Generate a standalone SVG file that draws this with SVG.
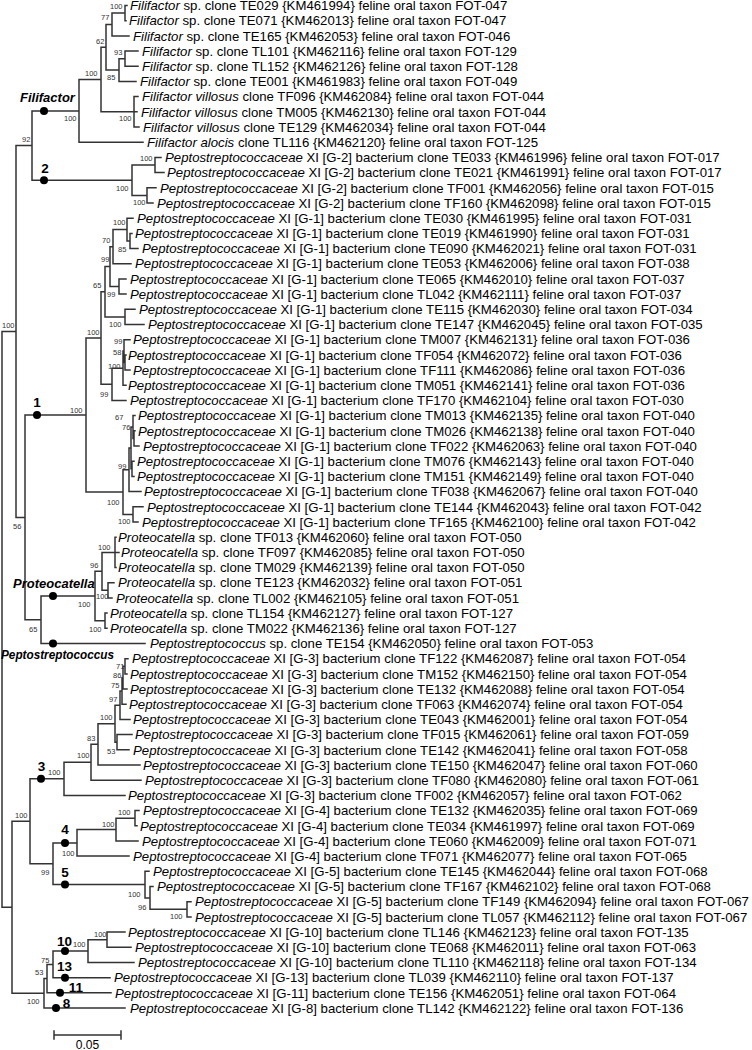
<svg xmlns="http://www.w3.org/2000/svg" width="752" height="1050" viewBox="0 0 752 1050">
<style>
text{font-family:"Liberation Sans",Arial,sans-serif;fill:#000}
.t{font-size:13.2px}
.i{font-style:italic}
.b{font-size:7.5px;fill:#333}
.cl{font-size:13px;font-weight:bold;font-style:italic}
.n{font-size:13.5px;font-weight:bold;text-anchor:middle}
.br{fill:none;stroke:#333;stroke-width:1.5;stroke-linecap:square}
.dot{fill:#000}
</style>
<rect width="752" height="1050" fill="#fff"/>
<g id="connectors">
<path class="br" d="M2,331.5V907.3M2,331.5H16M2,907.3H12
M16,145.6V517.4M16,145.6H32M16,517.4H25
M32,110.9V180.2M32,110.9H79M32,180.2H132
M79,79.6V142.2M79,79.6H101M79,142.2H143
M101,47.3V111.8M101,47.3H106M101,111.8H134
M106,24.5V70.1M106,24.5H112M106,70.1H119
M112,13.1V35.9M112,13.1H125M112,35.9H129
M125,5.5V20.7M125,5.5H127M125,20.7H126
M119,58.7V81.5M119,58.7H125M119,81.5H136
M125,51.1V66.3M125,51.1H138M125,66.3H138
M134,96.6V127M134,96.6H138M134,111.8H137M134,127H139
M132,165V195.4M132,165H155M132,195.4H147
M155,157.4V172.6M155,157.4H161M155,172.6H164
M147,187.8V203M147,187.8H156M147,203H153
M25,415V619.8M25,415H86M25,619.8H41
M86,338V492M86,338H101M86,492H123
M101,291.8V384.3M101,291.8H105M101,384.3H112
M105,266.6V316.9M105,266.6H110M105,316.9H125
M110,246.7V286.5M110,246.7H113M110,286.5H119
M113,229.6V263.7M113,229.6H127M113,263.7H131
M127,218.2V241M127,218.2H133M127,241H130
M130,233.4V248.5M130,233.4H132M130,248.5H138
M119,278.9V294.1M119,278.9H126M119,294.1H126
M125,309.3V324.5M125,309.3H135M125,324.5H144
M112,368.2V400.4M112,368.2H123M112,400.4H126
M123,351.1V385.3M123,351.1H124M123,385.3H126
M124,339.7V362.5M124,339.7H130M124,362.5H125
M125,354.9V370.1M125,354.9H126M125,370.1H130
M123,469.7V514.4M123,469.7H129M123,514.4H133
M129,447.9V491.6M129,447.9H131M129,491.6H141
M131,427V468.8M131,427H133M131,468.8H132
M133,415.6V438.4M133,415.6H135M133,438.4H134
M134,430.8V446M134,430.8H135M134,446H139
M132,461.2V476.4M132,461.2H134M132,476.4H134
M133,506.8V522M133,506.8H143M133,522H138
M41,596V643.5M41,596H95M41,643.5H145
M95,571.3V620.7M95,571.3H102M95,620.7H105
M102,552.4V590.3M102,552.4H115M102,590.3H108
M115,537.2V567.5M115,537.2H116M115,552.4H119M115,567.5H116
M108,582.7V597.9M108,582.7H114M108,597.9H112
M105,613.1V628.3M105,613.1H107M105,628.3H107
M12,821.3V993.3M12,821.3H30M12,993.3H44
M30,778.8V863.8M30,778.8H64M30,863.8H53
M64,762.3V795.4M64,762.3H91M64,795.4H125
M91,744.3V780.2M91,744.3H98M91,780.2H141
M98,723.7V765M98,723.7H115M98,765H140
M115,705.2V742.2M115,705.2H120M115,742.2H117
M120,691V719.4M120,691H122M120,719.4H130
M122,677.7V704.2M122,677.7H123M122,704.2H126
M123,666.3V689.1M123,666.3H125M123,689.1H127
M125,658.7V673.9M125,658.7H128M125,673.9H127
M117,734.6V749.8M117,734.6H132M117,749.8H129
M53,842.9V884.6M53,842.9H77M53,884.6H145
M77,829.6V856.1M77,829.6H116M77,856.1H129
M116,818.2V840.9M116,818.2H135M116,840.9H138
M135,810.6V825.8M135,810.6H139M135,825.8H137
M145,871.3V897.9M145,871.3H149M145,897.9H150
M150,886.5V909.3M150,886.5H153M150,909.3H187
M187,901.7V916.9M187,901.7H191M187,916.9H191
M44,978.6V1008M44,978.6H47M44,1008H125
M47,964.4V992.8M47,964.4H53M47,992.8H111
M53,951.1V977.7M53,951.1H88M53,977.7H110
M88,939.7V962.5M88,939.7H107M88,962.5H134
M107,932.1V947.3M107,932.1H125M107,947.3H131"/>
</g>
<g id="support-values">
<text class="b" x="110" y="9">100</text><text class="b" x="101" y="20">77</text><text class="b" x="96" y="44">62</text><text class="b" x="114" y="55">93</text><text class="b" x="107" y="80">85</text><text class="b" x="85" y="76">100</text><text class="b" x="119" y="121">100</text><text class="b" x="64" y="121">100</text><text class="b" x="22" y="142">92</text>
<text class="b" x="140" y="161">100</text><text class="b" x="116" y="191">100</text><text class="b" x="133" y="205">100</text>
<text class="b" x="113" y="225">100</text><text class="b" x="102" y="243">70</text><text class="b" x="118" y="252">85</text><text class="b" x="101" y="262">99</text><text class="b" x="93" y="288">65</text><text class="b" x="107" y="297">99</text><text class="b" x="109" y="327">100</text><text class="b" x="87" y="335">100</text><text class="b" x="114" y="344">99</text><text class="b" x="113" y="355">58</text><text class="b" x="108" y="369">100</text><text class="b" x="100" y="397">99</text><text class="b" x="70" y="413">100</text><text class="b" x="115" y="420">67</text><text class="b" x="122" y="430">76</text><text class="b" x="118" y="469">99</text><text class="b" x="107" y="505">100</text><text class="b" x="118" y="524">100</text><text class="b" x="13" y="529">56</text><text class="b" x="2" y="328">100</text>
<text class="b" x="98" y="550">100</text><text class="b" x="90" y="568">96</text><text class="b" x="96" y="599">100</text><text class="b" x="78" y="607">100</text><text class="b" x="89" y="632">100</text><text class="b" x="29" y="632">65</text>
<text class="b" x="116" y="668.5">71</text><text class="b" x="113" y="678">86</text><text class="b" x="111" y="688">75</text><text class="b" x="109" y="702">97</text><text class="b" x="100" y="720">100</text><text class="b" x="87" y="741">83</text><text class="b" x="107" y="754">53</text><text class="b" x="77" y="758">100</text><text class="b" x="48" y="775">100</text><text class="b" x="15" y="818">100</text>
<text class="b" x="118" y="815">100</text><text class="b" x="102" y="827">100</text><text class="b" x="62" y="856">100</text><text class="b" x="41" y="875">99</text>
<text class="b" x="128" y="897">100</text><text class="b" x="138" y="910">96</text><text class="b" x="170" y="919">100</text>
<text class="b" x="94" y="937">100</text><text class="b" x="73" y="947">100</text><text class="b" x="41" y="963">75</text><text class="b" x="35" y="975">53</text><text class="b" x="27" y="1004">100</text>
</g>
<g id="clade-Filifactor"><circle class="dot" cx="44" cy="110.9" r="4"/><text class="cl" x="20" y="102">Filifactor</text></g>
<g id="clade-2"><circle class="dot" cx="44" cy="180.2" r="4"/><text class="n" x="45" y="173">2</text></g>
<g id="clade-1"><circle class="dot" cx="37" cy="415" r="4"/><text class="n" x="37" y="407">1</text></g>
<g id="clade-Proteocatella"><circle class="dot" cx="53" cy="596" r="4"/><text class="cl" x="13" y="588">Proteocatella</text></g>
<g id="clade-Peptostreptococcus"><circle class="dot" cx="53" cy="643.5" r="4"/><text class="cl" x="1" y="659" textLength="113" lengthAdjust="spacingAndGlyphs">Peptostreptococcus</text></g>
<g id="clade-3"><circle class="dot" cx="41" cy="778.8" r="4"/><text class="n" x="41.5" y="771">3</text></g>
<g id="clade-4"><circle class="dot" cx="65" cy="842.9" r="4"/><text class="n" x="65" y="834">4</text></g>
<g id="clade-5"><circle class="dot" cx="65" cy="884.6" r="4"/><text class="n" x="65" y="877">5</text></g>
<g id="clade-10"><circle class="dot" cx="65" cy="951.1" r="4"/><text class="n" x="64.5" y="946">10</text></g>
<g id="clade-13"><circle class="dot" cx="65" cy="977.7" r="4"/><text class="n" x="64.5" y="971">13</text></g>
<g id="clade-11"><circle class="dot" cx="60" cy="992.8" r="4"/><text class="n" x="76" y="992">11</text></g>
<g id="clade-8"><circle class="dot" cx="56" cy="1008" r="4"/><text class="n" x="66.5" y="1008">8</text></g>
<g id="leaves" class="t">
<g id="leaf-TE029"><text class="t" x="130" y="10.2"><tspan class="i">Filifactor</tspan> sp. clone TE029 {KM461994} feline oral taxon FOT-047</text></g>
<g id="leaf-TE071"><text class="t" x="129" y="25.4"><tspan class="i">Filifactor</tspan> sp. clone TE071 {KM462013} feline oral taxon FOT-047</text></g>
<g id="leaf-TE165"><text class="t" x="133" y="40.6"><tspan class="i">Filifactor</tspan> sp. clone TE165 {KM462053} feline oral taxon FOT-046</text></g>
<g id="leaf-TL101"><text class="t" x="142" y="55.8"><tspan class="i">Filifactor</tspan> sp. clone TL101 {KM462116} feline oral taxon FOT-129</text></g>
<g id="leaf-TL152"><text class="t" x="142" y="71"><tspan class="i">Filifactor</tspan> sp. clone TL152 {KM462126} feline oral taxon FOT-128</text></g>
<g id="leaf-TE001"><text class="t" x="140" y="86.2"><tspan class="i">Filifactor</tspan> sp. clone TE001 {KM461983} feline oral taxon FOT-049</text></g>
<g id="leaf-TF096"><text class="t" x="142" y="101.3"><tspan class="i">Filifactor villosus</tspan> clone TF096 {KM462084} feline oral taxon FOT-044</text></g>
<g id="leaf-TM005"><text class="t" x="141" y="116.5"><tspan class="i">Filifactor villosus</tspan> clone TM005 {KM462130} feline oral taxon FOT-044</text></g>
<g id="leaf-TE129"><text class="t" x="143" y="131.7"><tspan class="i">Filifactor villosus</tspan> clone TE129 {KM462034} feline oral taxon FOT-044</text></g>
<g id="leaf-TL116"><text class="t" x="147" y="146.9"><tspan class="i">Filifactor alocis</tspan> clone TL116 {KM462120} feline oral taxon FOT-125</text></g>
<g id="leaf-TE033"><text class="t" x="165" y="162.1"><tspan class="i">Peptostreptococcaceae</tspan> XI [G-2] bacterium clone TE033 {KM461996} feline oral taxon FOT-017</text></g>
<g id="leaf-TE021"><text class="t" x="167" y="177.3"><tspan class="i">Peptostreptococcaceae</tspan> XI [G-2] bacterium clone TE021 {KM461991} feline oral taxon FOT-017</text></g>
<g id="leaf-TF001"><text class="t" x="160" y="192.5"><tspan class="i">Peptostreptococcaceae</tspan> XI [G-2] bacterium clone TF001 {KM462056} feline oral taxon FOT-015</text></g>
<g id="leaf-TF160"><text class="t" x="157" y="207.7"><tspan class="i">Peptostreptococcaceae</tspan> XI [G-2] bacterium clone TF160 {KM462098} feline oral taxon FOT-015</text></g>
<g id="leaf-TE030"><text class="t" x="137" y="222.9"><tspan class="i">Peptostreptococcaceae</tspan> XI [G-1] bacterium clone TE030 {KM461995} feline oral taxon FOT-031</text></g>
<g id="leaf-TE019"><text class="t" x="135" y="238.1"><tspan class="i">Peptostreptococcaceae</tspan> XI [G-1] bacterium clone TE019 {KM461990} feline oral taxon FOT-031</text></g>
<g id="leaf-TE090"><text class="t" x="142" y="253.2"><tspan class="i">Peptostreptococcaceae</tspan> XI [G-1] bacterium clone TE090 {KM462021} feline oral taxon FOT-031</text></g>
<g id="leaf-TE053"><text class="t" x="135" y="268.4"><tspan class="i">Peptostreptococcaceae</tspan> XI [G-1] bacterium clone TE053 {KM462006} feline oral taxon FOT-038</text></g>
<g id="leaf-TE065"><text class="t" x="130" y="283.6"><tspan class="i">Peptostreptococcaceae</tspan> XI [G-1] bacterium clone TE065 {KM462010} feline oral taxon FOT-037</text></g>
<g id="leaf-TL042"><text class="t" x="130" y="298.8"><tspan class="i">Peptostreptococcaceae</tspan> XI [G-1] bacterium clone TL042 {KM462111} feline oral taxon FOT-037</text></g>
<g id="leaf-TE115"><text class="t" x="139" y="314"><tspan class="i">Peptostreptococcaceae</tspan> XI [G-1] bacterium clone TE115 {KM462030} feline oral taxon FOT-034</text></g>
<g id="leaf-TE147"><text class="t" x="148" y="329.2"><tspan class="i">Peptostreptococcaceae</tspan> XI [G-1] bacterium clone TE147 {KM462045} feline oral taxon FOT-035</text></g>
<g id="leaf-TM007"><text class="t" x="133" y="344.4"><tspan class="i">Peptostreptococcaceae</tspan> XI [G-1] bacterium clone TM007 {KM462131} feline oral taxon FOT-036</text></g>
<g id="leaf-TF054"><text class="t" x="128" y="359.6"><tspan class="i">Peptostreptococcaceae</tspan> XI [G-1] bacterium clone TF054 {KM462072} feline oral taxon FOT-036</text></g>
<g id="leaf-TF111"><text class="t" x="133" y="374.8"><tspan class="i">Peptostreptococcaceae</tspan> XI [G-1] bacterium clone TF111 {KM462086} feline oral taxon FOT-036</text></g>
<g id="leaf-TM051"><text class="t" x="128" y="390"><tspan class="i">Peptostreptococcaceae</tspan> XI [G-1] bacterium clone TM051 {KM462141} feline oral taxon FOT-036</text></g>
<g id="leaf-TF170"><text class="t" x="130" y="405.1"><tspan class="i">Peptostreptococcaceae</tspan> XI [G-1] bacterium clone TF170 {KM462104} feline oral taxon FOT-030</text></g>
<g id="leaf-TM013"><text class="t" x="138" y="420.3"><tspan class="i">Peptostreptococcaceae</tspan> XI [G-1] bacterium clone TM013 {KM462135} feline oral taxon FOT-040</text></g>
<g id="leaf-TM026"><text class="t" x="138" y="435.5"><tspan class="i">Peptostreptococcaceae</tspan> XI [G-1] bacterium clone TM026 {KM462138} feline oral taxon FOT-040</text></g>
<g id="leaf-TF022"><text class="t" x="143" y="450.7"><tspan class="i">Peptostreptococcaceae</tspan> XI [G-1] bacterium clone TF022 {KM462063} feline oral taxon FOT-040</text></g>
<g id="leaf-TM076"><text class="t" x="137" y="465.9"><tspan class="i">Peptostreptococcaceae</tspan> XI [G-1] bacterium clone TM076 {KM462143} feline oral taxon FOT-040</text></g>
<g id="leaf-TM151"><text class="t" x="137" y="481.1"><tspan class="i">Peptostreptococcaceae</tspan> XI [G-1] bacterium clone TM151 {KM462149} feline oral taxon FOT-040</text></g>
<g id="leaf-TF038"><text class="t" x="144" y="496.3"><tspan class="i">Peptostreptococcaceae</tspan> XI [G-1] bacterium clone TF038 {KM462067} feline oral taxon FOT-040</text></g>
<g id="leaf-TE144"><text class="t" x="147" y="511.5"><tspan class="i">Peptostreptococcaceae</tspan> XI [G-1] bacterium clone TE144 {KM462043} feline oral taxon FOT-042</text></g>
<g id="leaf-TF165"><text class="t" x="142" y="526.7"><tspan class="i">Peptostreptococcaceae</tspan> XI [G-1] bacterium clone TF165 {KM462100} feline oral taxon FOT-042</text></g>
<g id="leaf-TF013"><text class="t" x="118" y="541.9"><tspan class="i">Proteocatella</tspan> sp. clone TF013 {KM462060} feline oral taxon FOT-050</text></g>
<g id="leaf-TF097"><text class="t" x="121" y="557.1"><tspan class="i">Proteocatella</tspan> sp. clone TF097 {KM462085} feline oral taxon FOT-050</text></g>
<g id="leaf-TM029"><text class="t" x="118" y="572.2"><tspan class="i">Proteocatella</tspan> sp. clone TM029 {KM462139} feline oral taxon FOT-050</text></g>
<g id="leaf-TE123"><text class="t" x="118" y="587.4"><tspan class="i">Proteocatella</tspan> sp. clone TE123 {KM462032} feline oral taxon FOT-051</text></g>
<g id="leaf-TL002"><text class="t" x="116" y="602.6"><tspan class="i">Proteocatella</tspan> sp. clone TL002 {KM462105} feline oral taxon FOT-051</text></g>
<g id="leaf-TL154"><text class="t" x="110" y="617.8"><tspan class="i">Proteocatella</tspan> sp. clone TL154 {KM462127} feline oral taxon FOT-127</text></g>
<g id="leaf-TM022"><text class="t" x="110" y="633"><tspan class="i">Proteocatella</tspan> sp. clone TM022 {KM462136} feline oral taxon FOT-127</text></g>
<g id="leaf-TE154"><text class="t" x="150" y="648.2"><tspan class="i">Peptostreptococcus</tspan> sp. clone TE154 {KM462050} feline oral taxon FOT-053</text></g>
<g id="leaf-TF122"><text class="t" x="132" y="663.4"><tspan class="i">Peptostreptococcaceae</tspan> XI [G-3] bacterium clone TF122 {KM462087} feline oral taxon FOT-054</text></g>
<g id="leaf-TM152"><text class="t" x="130" y="678.6"><tspan class="i">Peptostreptococcaceae</tspan> XI [G-3] bacterium clone TM152 {KM462150} feline oral taxon FOT-054</text></g>
<g id="leaf-TE132a"><text class="t" x="130" y="693.8"><tspan class="i">Peptostreptococcaceae</tspan> XI [G-3] bacterium clone TE132 {KM462088} feline oral taxon FOT-054</text></g>
<g id="leaf-TF063"><text class="t" x="129" y="708.9"><tspan class="i">Peptostreptococcaceae</tspan> XI [G-3] bacterium clone TF063 {KM462074} feline oral taxon FOT-054</text></g>
<g id="leaf-TE043"><text class="t" x="133" y="724.1"><tspan class="i">Peptostreptococcaceae</tspan> XI [G-3] bacterium clone TE043 {KM462001} feline oral taxon FOT-054</text></g>
<g id="leaf-TF015"><text class="t" x="135" y="739.3"><tspan class="i">Peptostreptococcaceae</tspan> XI [G-3] bacterium clone TF015 {KM462061} feline oral taxon FOT-059</text></g>
<g id="leaf-TE142"><text class="t" x="133" y="754.5"><tspan class="i">Peptostreptococcaceae</tspan> XI [G-3] bacterium clone TE142 {KM462041} feline oral taxon FOT-058</text></g>
<g id="leaf-TE150"><text class="t" x="143" y="769.7"><tspan class="i">Peptostreptococcaceae</tspan> XI [G-3] bacterium clone TE150 {KM462047} feline oral taxon FOT-060</text></g>
<g id="leaf-TF080"><text class="t" x="145" y="784.9"><tspan class="i">Peptostreptococcaceae</tspan> XI [G-3] bacterium clone TF080 {KM462080} feline oral taxon FOT-061</text></g>
<g id="leaf-TF002"><text class="t" x="128" y="800.1"><tspan class="i">Peptostreptococcaceae</tspan> XI [G-3] bacterium clone TF002 {KM462057} feline oral taxon FOT-062</text></g>
<g id="leaf-TE132b"><text class="t" x="143" y="815.3"><tspan class="i">Peptostreptococcaceae</tspan> XI [G-4] bacterium clone TE132 {KM462035} feline oral taxon FOT-069</text></g>
<g id="leaf-TE034"><text class="t" x="140" y="830.5"><tspan class="i">Peptostreptococcaceae</tspan> XI [G-4] bacterium clone TE034 {KM461997} feline oral taxon FOT-069</text></g>
<g id="leaf-TE060"><text class="t" x="142" y="845.6"><tspan class="i">Peptostreptococcaceae</tspan> XI [G-4] bacterium clone TE060 {KM462009} feline oral taxon FOT-071</text></g>
<g id="leaf-TF071"><text class="t" x="133" y="860.8"><tspan class="i">Peptostreptococcaceae</tspan> XI [G-4] bacterium clone TF071 {KM462077} feline oral taxon FOT-065</text></g>
<g id="leaf-TE145"><text class="t" x="153" y="876"><tspan class="i">Peptostreptococcaceae</tspan> XI [G-5] bacterium clone TE145 {KM462044} feline oral taxon FOT-068</text></g>
<g id="leaf-TF167"><text class="t" x="157" y="891.2"><tspan class="i">Peptostreptococcaceae</tspan> XI [G-5] bacterium clone TF167 {KM462102} feline oral taxon FOT-068</text></g>
<g id="leaf-TF149"><text class="t" x="195" y="906.4"><tspan class="i">Peptostreptococcaceae</tspan> XI [G-5] bacterium clone TF149 {KM462094} feline oral taxon FOT-067</text></g>
<g id="leaf-TL057"><text class="t" x="195" y="921.6"><tspan class="i">Peptostreptococcaceae</tspan> XI [G-5] bacterium clone TL057 {KM462112} feline oral taxon FOT-067</text></g>
<g id="leaf-TL146"><text class="t" x="128" y="936.8"><tspan class="i">Peptostreptococcaceae</tspan> XI [G-10] bacterium clone TL146 {KM462123} feline oral taxon FOT-135</text></g>
<g id="leaf-TE068"><text class="t" x="135" y="952"><tspan class="i">Peptostreptococcaceae</tspan> XI [G-10] bacterium clone TE068 {KM462011} feline oral taxon FOT-063</text></g>
<g id="leaf-TL110"><text class="t" x="138" y="967.2"><tspan class="i">Peptostreptococcaceae</tspan> XI [G-10] bacterium clone TL110 {KM462118} feline oral taxon FOT-134</text></g>
<g id="leaf-TL039"><text class="t" x="114" y="982.4"><tspan class="i">Peptostreptococcaceae</tspan> XI [G-13] bacterium clone TL039 {KM462110} feline oral taxon FOT-137</text></g>
<g id="leaf-TE156"><text class="t" x="115" y="997.5"><tspan class="i">Peptostreptococcaceae</tspan> XI [G-11] bacterium clone TE156 {KM462051} feline oral taxon FOT-064</text></g>
<g id="leaf-TL142"><text class="t" x="130" y="1012.7"><tspan class="i">Peptostreptococcaceae</tspan> XI [G-8] bacterium clone TL142 {KM462122} feline oral taxon FOT-136</text></g>
</g>
<g id="scale-bar">
<path class="br" d="M54,1035H121M54,1031V1039M121,1031V1039"/>
<text x="87.5" y="1049" style="font-size:12px;text-anchor:middle">0.05</text>
</g>
</svg>
